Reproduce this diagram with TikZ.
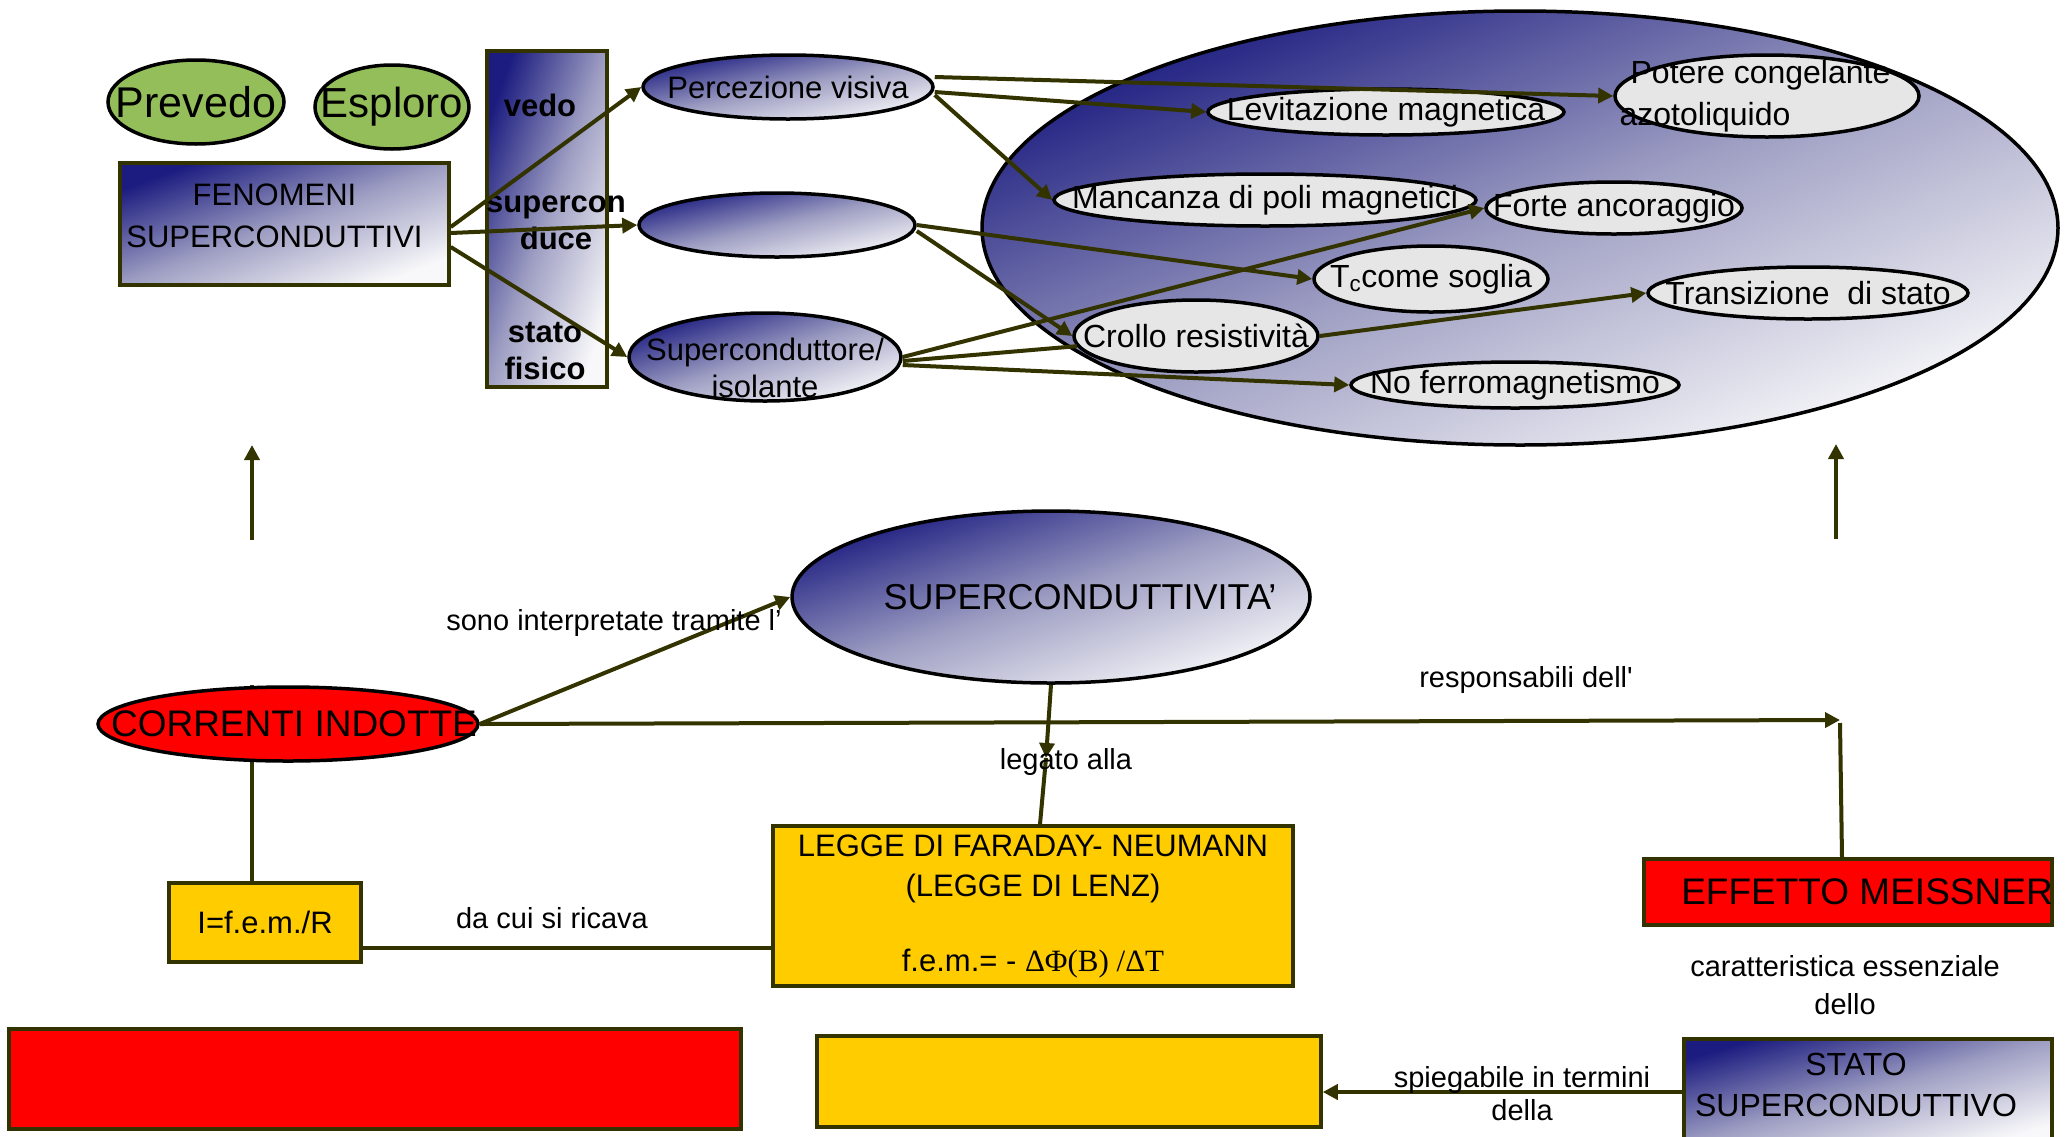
\documentclass[tikz,border=0pt]{standalone}
\usepackage{fontspec}
\setmainfont{Liberation Sans}
\newfontfamily\timesface{Liberation Serif}
\usetikzlibrary{arrows.meta,shapes.geometric}
\definecolor{scnavy}{RGB}{28,28,128}
\definecolor{scmid}{RGB}{158,158,195}
\definecolor{scwhite}{RGB}{248,248,250}
\definecolor{pillgray}{RGB}{230,230,230}
\definecolor{leafgreen}{RGB}{148,190,90}
\definecolor{linkolive}{RGB}{51,51,0}
\definecolor{gold}{RGB}{255,204,0}
\newcommand{\fsz}[2]{\fontsize{#1}{#2}\selectfont}

\begin{document}
\begin{tikzpicture}[x=1pt,y=-1pt,
  link/.style={draw=linkolive,line width=4pt},
  arr/.style={link,-{Triangle[length=15pt,width=15pt]}},
  % corner to corner fade; the angle is atan(height/width) of the shape
  grad/.style={top color=scnavy,bottom color=scwhite,middle color=scmid,shading angle=#1},
  box/.style={rectangle,draw=linkolive,line width=3.5pt,inner sep=0pt,align=center},
  pill/.style 2 args={ellipse,draw=black,line width=3.5pt,inner sep=0pt,
    minimum width=#1,minimum height=#2},
  phen/.style={fill=pillgray},
  modetxt/.style={font=\fsz{31}{37}\bfseries,align=center,inner sep=0pt},
  tag/.style={font=\fsz{29}{36},align=center,inner sep=0pt},
  every label/.style={font=\fsz{32}{38},align=center,inner sep=0pt}
]
\useasboundingbox (0,0) rectangle (2067,1136);

% top left: how we know
\node[pill={176pt}{84pt},fill=leafgreen,label={[font=\fsz{43}{50}]center:Prevedo}] (prevedo) at (196,102) {};
\node[pill={154pt}{84pt},fill=leafgreen,label={[font=\fsz{42}{50}]center:Esploro}] (esploro) at (392,107) {};
\node[box,grad=20.3,minimum width=329pt,minimum height=122pt,
  label={[xshift=-10pt,yshift=8pt,font=\fsz{31}{42}]center:FENOMENI\\SUPERCONDUTTIVI}] (fenomeni) at (284.5,224) {};
\node[box,grad=70.3,minimum width=120pt,minimum height=336pt] (modes) at (547,219) {};
\node[modetxt] (mvedo) at (540,105) {vedo};
\node[modetxt] (msuper) at (556,223) {supercon\\duce};
\node[modetxt] (mstato) at (545,351) {stato\\fisico};

% branches
\node[pill={290pt}{64pt},grad=12.4,label={[font=\fsz{31}{37}]center:Percezione visiva}] (perc) at (788,87) {};
\node[pill={276pt}{64pt},grad=13.1] (blank) at (777,225) {};
\node[pill={272pt}{88pt},grad=17.9,label={[yshift=-11pt,font=\fsz{31}{37}]center:Superconduttore/\\isolante}] (scisol) at (765,357) {};

% phenomena cloud
\node[pill={1076pt}{434pt},grad=22] (cloud) at (1520,228) {};
\node[pill={356pt}{46pt},phen,label={center:Levitazione magnetica}] (levit) at (1386,112) {};
\node[pill={304pt}{82pt},phen,label={[align=left,xshift=-12pt,font=\fsz{32}{42}]center:\hspace*{11pt}Potere congelante\\azotoliquido}] (potere) at (1767,96) {};
\node[pill={422pt}{52pt},phen,label={center:Mancanza di poli magnetici}] (manc) at (1265,200) {};
\node[pill={256pt}{52pt},phen,label={center:Forte ancoraggio}] (forte) at (1614,208) {};
\node[pill={234pt}{66pt},phen,label={center:T\textsubscript{c}come soglia}] (tc) at (1431,279) {};
\node[pill={320pt}{52pt},phen,label={center:Transizione\ \ di stato}] (trans) at (1808,293) {};
\node[pill={244pt}{72pt},phen,label={center:Crollo resistività}] (crollo) at (1196,336) {};
\node[pill={328pt}{46pt},phen,label={center:No ferromagnetismo}] (noferro) at (1515,385) {};

% middle and bottom
\node[box,fill=gold,minimum width=192pt,minimum height=79pt,font=\fsz{31}{37}] (ifem) at (265,922.5) {I=f.e.m./R};
\coordinate (ifemtop) at (252,685);
\draw[link] (ifem.north -| ifemtop) -- (ifemtop);
\node[pill={380pt}{74pt},fill=red,label={[xshift=6pt,font=\fsz{37}{44}]center:CORRENTI INDOTTE}] (corr) at (288,724) {};
\node[pill={518pt}{172pt},grad=18.4,label={[xshift=29pt,font=\fsz{36}{43}]center:SUPERCONDUTTIVITA’}] (supcond) at (1051,597) {};
\node[box,fill=gold,minimum width=520pt,minimum height=160pt,font=\fsz{31}{40}] (legge) at (1033,906)
  {LEGGE DI FARADAY- NEUMANN\\(LEGGE DI LENZ)\\[35pt]f.e.m.= - {\timesface ΔΦ(B) /ΔT}};
\node[box,fill=red,minimum width=408pt,minimum height=66pt,label={[xshift=19pt,font=\fsz{37}{44}]center:EFFETTO MEISSNER}] (meissner) at (1848,892) {};
\node[box,grad=16.1,minimum width=368pt,minimum height=106pt,label={[xshift=-12pt,yshift=7pt,font=\fsz{32}{41}]center:STATO\\SUPERCONDUTTIVO}] (stato) at (1868,1092) {};
\node[box,fill=red,minimum width=732pt,minimum height=100pt] (redbox) at (375,1079) {};
\node[box,fill=gold,minimum width=504pt,minimum height=91pt] (goldbox) at (1069,1081.5) {};

\coordinate (leftfoot) at (252,540);
\coordinate (lefthead) at (252,445);
\coordinate (rightfoot) at (1836,539);
\coordinate (righthead) at (1836,444);
\coordinate (meisin) at (1840,720);
\coordinate (legtip) at (1046,758);

% connectors
\draw[arr] ([yshift=-3pt]fenomeni.east) -- (perc.west);
\draw[arr] ([yshift=-9pt]fenomeni.east) -- (blank.west);
\draw[arr] ([yshift=-23pt]fenomeni.east) -- (scisol.west);
\draw[arr] ([yshift=10pt]perc.east) -- (potere.west);
\draw[arr] ([yshift=-5pt]perc.east) -- (levit.west);
\draw[arr] ([yshift=-8pt]perc.east) -- (manc.west);
\draw[arr] (blank.east) -- (tc.west);
\draw[arr] ([yshift=-6pt]blank.east) -- (crollo.west);
\draw[arr] (scisol.east) -- (forte.west);
\draw[link] ([yshift=-4pt]scisol.east) -- (crollo);
\draw[arr] ([yshift=-8pt]scisol.east) -- (noferro.west);
\draw[arr] (crollo.east) -- (trans.west);
\draw[arr] (corr.east) -- (supcond.west);
\draw[arr] (corr.east) -- (meisin);
\draw[arr] (supcond.south) -- (legtip);
\draw[link] (legtip) -- ([xshift=7pt]legge.north);
\draw[link] ([yshift=-25pt]ifem.east) -- ([yshift=-25pt]ifem.east -| legge.west);
\draw[link] ([xshift=-6pt]meissner.north) -- ([yshift=-3pt]meisin);
\draw[arr] (leftfoot) -- (lefthead);
\draw[arr] (rightfoot) -- (righthead);
\draw[arr] (stato.west) -- (stato.west -| goldbox.east);

% connector texts
\node[tag] (tinterp) at (614,623) {sono interpretate tramite l’};
\node[tag] (tresp) at (1526,680) {responsabili dell\textquotesingle};
\node[tag] (tlegato) at (1066,762) {legato alla};
\node[tag] (tricava) at (552,918) {da cui si ricava};
\node[tag,font=\fsz{29}{38}] (tcaratt) at (1845,985) {caratteristica essenziale\\dello};
\node[tag,font=\fsz{29}{33}] (tspieg) at (1522,1094) {spiegabile in termini\\della};
\end{tikzpicture}
\end{document}
